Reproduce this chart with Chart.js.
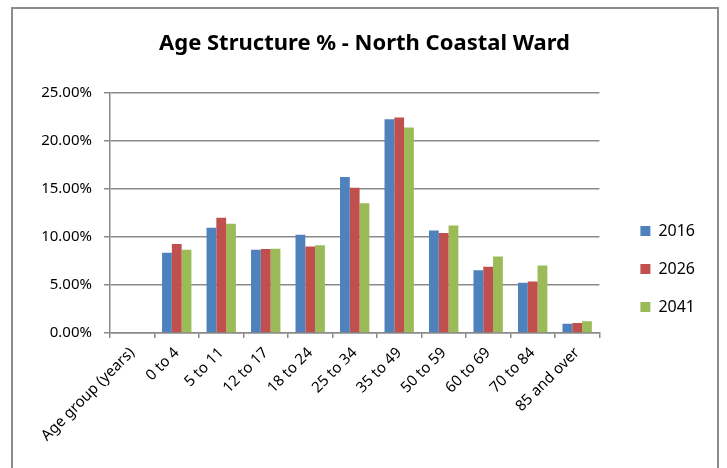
<!DOCTYPE html>
<html>
<head>
<meta charset="utf-8">
<script src="https://cdn.jsdelivr.net/npm/chart.js@4.4.1/dist/chart.umd.min.js"></script>
<style>
    html, body { margin: 0; padding: 0; background: #ffffff; overflow: hidden; }
    canvas { display: block; }
</style>
</head>
<body>
<canvas id="chart" width="727" height="468"></canvas>
<script>
// Данные графика
const categories = ["Age group (years)", "0 to 4", "5 to 11", "12 to 17", "18 to 24", "25 to 34", "35 to 49", "50 to 59", "60 to 69", "70 to 84", "85 and over"];
const seriesNames = ["2016", "2026", "2041"];
const values2016 = [null, 8.33, 10.94, 8.65, 10.21, 16.22, 22.22, 10.66, 6.53, 5.21, 0.97];
const values2026 = [null, 9.24, 11.98, 8.72, 8.99, 15.10, 22.40, 10.38, 6.88, 5.35, 1.04];
const values2041 = [null, 8.65, 11.35, 8.75, 9.13, 13.47, 21.35, 11.18, 7.95, 7.01, 1.22];
const yTickValues = [0, 5, 10, 15, 20, 25];

const colors = ["#4f81bd", "#c0504d", "#9bbb59"];
const gridColor = "#8a8a8a";
const fontFamily = "'Noto Sans', 'DejaVu Sans', sans-serif";

// Рамка вокруг всей диаграммы
const frame = {
    id: "frame",
    beforeDraw(chart) {
        const ctx = chart.ctx;
        ctx.save();
        ctx.strokeStyle = "#8c8c8c";
        ctx.lineWidth = 2;
        ctx.strokeRect(12, 8, 706, 500);
        ctx.restore();
    }
};

const seriesValues = [values2016, values2026, values2041];

new Chart(document.getElementById("chart"), {
    type: "bar",
    data: {
        labels: categories,
        datasets: seriesNames.map((name, i) => ({
            label: name,
            data: seriesValues[i],
            backgroundColor: colors[i],
            borderWidth: 0,
            categoryPercentage: 0.66,
            barPercentage: 1.0
        }))
    },
    options: {
        responsive: false,
        animation: false,
        layout: { padding: { left: 24, right: 22, top: 0, bottom: 0 } },
        plugins: {
            title: {
                display: true,
                text: "Age Structure % - North Coastal Ward",
                color: "#000000",
                font: { family: fontFamily, size: 22, weight: "bold" },
                padding: { top: 31, bottom: 35 }
            },
            legend: {
                position: "right",
                // пустой заголовок легенды сдвигает подписи вниз
                title: { display: true, text: " ", font: { size: 10 }, padding: { top: 58, bottom: 0 } },
                labels: {
                    color: "#000000",
                    font: { family: fontFamily, size: 16 },
                    boxWidth: 10,
                    boxHeight: 10,
                    padding: 22
                }
            },
            tooltip: { enabled: false }
        },
        scales: {
            x: {
                grid: { drawOnChartArea: false, drawTicks: true, tickLength: 5, color: gridColor, lineWidth: 1.5 },
                border: { color: gridColor, width: 1.5 },
                ticks: {
                    color: "#000000",
                    font: { family: fontFamily, size: 15 },
                    minRotation: 45,
                    maxRotation: 45,
                    autoSkip: false,
                    padding: 6
                },
                afterFit: (scale) => { scale.height = 135; }
            },
            y: {
                min: 0,
                max: 25,
                grid: { color: gridColor, lineWidth: 1.5, tickLength: 6 },
                border: { color: gridColor, width: 1.5 },
                ticks: {
                    color: "#000000",
                    font: { family: fontFamily, size: 15 },
                    padding: 12,
                    callback: (v) => v.toFixed(2) + "%"
                },
                afterBuildTicks: (scale) => { scale.ticks = yTickValues.map((v) => ({ value: v })); },
                afterFit: (scale) => { scale.width = 86; }
            },
            // пустая ось справа — отступ между графиком и легендой
            gap: {
                type: "linear",
                position: "right",
                grid: { display: false },
                border: { display: false },
                ticks: { display: false },
                afterFit: (scale) => { scale.width = 19; }
            }
        }
    },
    plugins: [frame]
});
</script>
</body>
</html>
